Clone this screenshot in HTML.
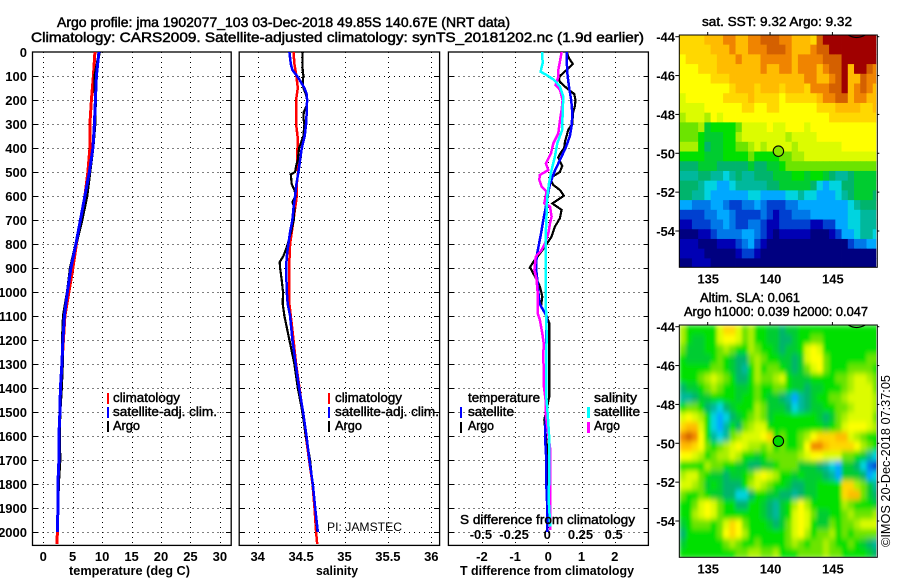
<!DOCTYPE html>
<html>
<head>
<meta charset="utf-8">
<title>Argo profile</title>
<style>
html,body{margin:0;padding:0;background:#fff;}
svg{display:block;}
text{font-family:"Liberation Sans",sans-serif;fill:#000;}
.b{font-weight:bold;font-size:13px;}
.t{font-size:14px;stroke:#000;stroke-width:.5px;}
.l{font-size:13px;stroke:#000;stroke-width:.45px;}
</style>
</head>
<body>
<svg id="chart" xmlns="http://www.w3.org/2000/svg" width="900" height="580" viewBox="0 0 900 580">
<defs>
<clipPath id="clip-sst"><rect x="679.3" y="35" width="197" height="232.3"/></clipPath>
<clipPath id="clip-sla"><rect x="679.3" y="325" width="197" height="232.3"/></clipPath>
<filter id="soft" x="-5%" y="-5%" width="110%" height="110%"><feGaussianBlur stdDeviation="1.8 2.8"/></filter>
</defs>
<text class="t" x="57" y="27" textLength="453" lengthAdjust="spacingAndGlyphs">Argo profile: jma 1902077_103 03-Dec-2018 49.85S 140.67E (NRT data)</text>
<text class="t" x="31" y="42" textLength="613" lengthAdjust="spacingAndGlyphs">Climatology: CARS2009. Satellite-adjusted climatology: synTS_20181202.nc (1.9d earlier)</text>

<g id="grid-layer"></g>
<g id="line-layer"></g>

<g>
<rect x="107" y="393" width="2" height="11" fill="#f00"/>
<rect x="107" y="407" width="2" height="11" fill="#00f"/>
<rect x="107" y="421" width="2" height="11" fill="#000"/>
<text class="l" x="113" y="402" textLength="67" lengthAdjust="spacingAndGlyphs">climatology</text>
<text class="l" x="113" y="416" textLength="104" lengthAdjust="spacingAndGlyphs">satellite-adj. clim.</text>
<text class="l" x="113" y="430" textLength="27" lengthAdjust="spacingAndGlyphs">Argo</text>
</g>
<g>
<rect x="328" y="393" width="2" height="11" fill="#f00"/>
<rect x="328" y="407" width="2" height="11" fill="#00f"/>
<rect x="328" y="421" width="2" height="11" fill="#000"/>
<text class="l" x="335" y="402" textLength="67" lengthAdjust="spacingAndGlyphs">climatology</text>
<text class="l" x="335" y="416" textLength="104" lengthAdjust="spacingAndGlyphs">satellite-adj. clim.</text>
<text class="l" x="335" y="430" textLength="27" lengthAdjust="spacingAndGlyphs">Argo</text>
<text x="327" y="531" font-size="12" textLength="75" lengthAdjust="spacingAndGlyphs">PI: JAMSTEC</text>
</g>
<g>
<text class="l" x="468" y="402" textLength="72" lengthAdjust="spacingAndGlyphs">temperature</text>
<text class="l" x="468" y="416" textLength="46" lengthAdjust="spacingAndGlyphs">satellite</text>
<text class="l" x="468" y="430" textLength="26" lengthAdjust="spacingAndGlyphs">Argo</text>
<rect x="460" y="407" width="2" height="11" fill="#00f"/>
<rect x="460" y="422" width="2" height="11" fill="#000"/>
<text class="l" x="594" y="402" textLength="43" lengthAdjust="spacingAndGlyphs">salinity</text>
<text class="l" x="594" y="416" textLength="46" lengthAdjust="spacingAndGlyphs">satellite</text>
<text class="l" x="594" y="430" textLength="26" lengthAdjust="spacingAndGlyphs">Argo</text>
<rect x="587" y="407" width="3" height="11" fill="#0ff"/>
<rect x="587" y="422" width="3" height="11" fill="#f0f"/>
<text class="l" x="460" y="524" textLength="175" lengthAdjust="spacingAndGlyphs">S difference from climatology</text>
</g>

<text class="b" x="69" y="575" textLength="121" lengthAdjust="spacingAndGlyphs">temperature (deg C)</text>
<text class="b" x="316" y="575" textLength="42" lengthAdjust="spacingAndGlyphs">salinity</text>
<text class="b" x="460" y="575" textLength="174" lengthAdjust="spacingAndGlyphs">T difference from climatology</text>

<text class="l" x="702" y="26" textLength="150" lengthAdjust="spacingAndGlyphs">sat. SST: 9.32 Argo: 9.32</text>
<text class="l" x="700" y="302" textLength="100" lengthAdjust="spacingAndGlyphs">Altim. SLA: 0.061</text>
<text class="l" x="684" y="316" textLength="184" lengthAdjust="spacingAndGlyphs">Argo h1000: 0.039 h2000: 0.047</text>
<g id="sst-map"></g>
<g id="sla-map"></g>
<text font-size="13" transform="translate(890,547) rotate(-90)" textLength="172" lengthAdjust="spacingAndGlyphs">©IMOS 20-Dec-2018 07:37:05</text>
</svg>
<script>
// ---- tick labels ----
const depthTicks = [0,100,200,300,400,500,600,700,800,900,1000,1100,1200,1300,1400,1500,1600,1700,1800,1900,2000];
const tempTicks = [0,5,10,15,20,25,30];
const salTicks = [34,34.5,35,35.5,36];
const dTempTicks = [-2,-1,0,1,2];
const dSalTicks = [-0.5,-0.25,0,0.25,0.5];
const dSalTickLabels = ['-0.5','-0.25','0','0.25','0.5'];
const lonTicks = [135,140,145];
const latTicks = [-44,-46,-48,-50,-52,-54];

// ---- temperature panel ----
const tempDepths = [0,100,200,300,400,500,600,700,800,900,1000,1100,1200,1300,1400,1500,1600,1700,1800,1900,2000];
const tempClim = [8.78,8.52,8.18,7.93,7.93,7.59,7.08,6.40,5.64,5.04,4.36,3.68,3.43,3.17,3.00,2.84,2.75,2.75,2.58,2.50,2.41];
const tempClimDeep = [2050,2.33];
const tempSat = [9.46,9.03,8.86,8.69,8.44,7.84,7.08,6.32,5.55,4.70,4.11,3.60,3.34,3.17,2.92,2.84,2.67,2.67,2.50,2.50,2.41];
const tempArgo = [9.54,8.78,8.86,8.78,8.44,7.93,7.42,6.57,5.55,4.62,4.11,3.43,3.26,3.26,3.09,2.84,2.75,2.84,2.58,2.50,2.41];

// ---- salinity panel ----
const salClimDepths = [0,50,100,150,200,250,300,350,400,450,500,550,600,700,800,900,1000,1050,1100,1200,1300,1400,1500,1600,1700,1800,1900,2000,2050];
const salClim = [34.412,34.423,34.446,34.462,34.442,34.442,34.442,34.458,34.458,34.454,34.465,34.45,34.45,34.412,34.373,34.362,34.362,34.365,34.381,34.412,34.442,34.481,34.519,34.554,34.592,34.631,34.654,34.673,34.685];
const salSatDepths = [0,50,75,100,125,150,175,200,250,300,350,400,450,500,550,600,650,700,750,800,850,900,1000,1050,1100,1200,1300,1400,1500,1600,1700,1800,1900,2000];
const salSat = [34.365,34.381,34.4,34.454,34.496,34.538,34.565,34.569,34.565,34.558,34.542,34.508,34.488,34.469,34.446,34.431,34.412,34.4,34.373,34.354,34.335,34.327,34.335,34.346,34.373,34.4,34.438,34.477,34.523,34.562,34.596,34.635,34.662,34.692];
const salArgoDepths = [0,25,50,75,100,125,150,175,200,225,250,275,300,350,400,425,450,475,500,510,550,575,600,625,650,700,750,800,825,850,875,900,950,1000,1050,1100,1200,1300,1400,1500,1600,1700,1800,1900,2000];
const salArgo = [34.519,34.515,34.515,34.519,34.527,34.519,34.527,34.554,34.569,34.562,34.531,34.527,34.538,34.527,34.477,34.469,34.462,34.442,34.431,34.381,34.392,34.423,34.438,34.4,34.423,34.415,34.385,34.346,34.323,34.296,34.254,34.258,34.277,34.292,34.288,34.308,34.365,34.423,34.462,34.515,34.554,34.604,34.631,34.662,34.688];

// ---- difference panel ----
const dTempSatDepths = [0,50,100,150,200,250,300,350,400,450,500,550,600,650,700,750,800,850,900,950,1000,1050,1100,1200,1300,1400,1500,1600,1700,1800,1900,2000];
const dTempSat = [.55,.56,.58,.63,.69,.72,.71,.65,.52,.35,.18,.05,-.02,-.08,-.15,-.21,-.28,-.35,-.37,-.33,-.30,-.26,-.05,-.06,-.06,-.06,-.07,-.10,-.06,-.06,-.03,-.03];
const dTempArgoDepths = [0,25,50,75,100,112,125,150,175,200,225,250,300,325,350,375,400,425,440,475,500,526,554,575,599,619,631,658,693,728,769,790,811,839,874,897,936,978,1019,1061,1075,1103,1130,1242,1436,1533,1658,1867,2000];
const dTempArgo = [.55,.62,.74,.55,.35,.32,.35,.55,.78,.82,.80,.75,.72,.60,.55,.50,.48,.35,.30,.42,.35,.05,.15,.35,.47,.25,.12,.40,.35,.20,.10,0,-.10,-.25,-.45,-.55,-.40,-.25,-.18,-.22,-.15,-.05,.03,.03,.03,-.12,-.03,-.03,-.03];
const dSalSatDepths = [0,47,82,96,117,144,186,256,325,381,436,492,547,603,672,742,881,1061,1172,1311,1436,1506,1589,1728,1867,1978];
const dSalSat = [-.045,-.043,-.058,-.013,.045,.088,.113,.108,.105,.068,.05,.025,.005,-.008,-.013,-.018,-.02,-.018,-.013,-.015,-.015,-.005,.005,.008,.003,.015];
const dSalArgoDepths = [0,47,75,103,137,158,200,242,283,339,381,422,464,492,512,533,561,582,631,644,686,714,756,797,825,853,908,950,1006,1061,1089,1117,1172,1214,1269,1353,1394,1450,1506,1658,1867,1992];
const dSalArgo = [.10,.085,.075,.075,.055,.088,.108,.10,.088,.075,.038,.02,-.018,0,-.063,-.068,-.05,-.013,-.03,.013,.025,.013,0,-.025,-.05,-.095,-.105,-.088,-.08,-.08,-.08,-.063,-.045,-.035,-.038,-.033,-.033,-.02,-.02,.015,.015,.015];

// ---- maps: one letter per 0.5 degree cell, a = lowest level, s = highest ----
const sstRows = [
"oooopppqqppqqrrrqqpppors" + "ssssssss",
"ooooopppqppqqqrrrqpppqrr" + "ssssssss",
"nooooopppqpppqqqqqpqqqqr" + "rrssssss",
"nnnooopppppppqppqqpqqqpq" + "rrspssrq",
"nnnnnoooppppppppppppqqpp" + "qrspprqq",
"nnnnnnnnopppoppp" + "opppoqqqrrspqrqp",
"mnnnnnnoooopoooo" + "nooooopqqrrpqqpp",
"mmmmnnnnnnoonnoo" + "nnnnnnoooppppoop",
"lmmmlnmnnnnnnnnn" + "nnnnnnnnoooooooo",
"kkklijjjjkmmmmnm" + "mnnnmnnnnnnnnnnn",
"kkkjiiijjlmmmmmm" + "mlmmmmnnnnnnnnnn",
"lllj" + "hiijjkklmlmm" + "mmlmmmmmmmnnnnnn",
"jjjjiiijjjjkjjjj" + "kkllmmmmmmmmmmmm",
"hhhiiihhhhhihhii" + "jkkkkkkkkkkkkkkk",
"ggghhggfghgghhhi" + "iijjijjihgghiiii",
"hhhgffeefggggghh" + "iiiiihfeffhhiiii",
"hhggfeeeeeeffee" + "e" + "effgffeeefghiiih",
"eedddeedccddedcc" + "cddeeeeeeeefghhh",
"ccccddeedccccdcb" + "ccdddeeeeeeffggg",
"bbcccddedccddcbb" + "cccccbbcceeffggg",
"aaabbcddddeedcba" + "bbbbbaaabceefggf",
"bbbaaabbbcdecbaa" + "aaaaaaaaaaacddee",
"bbbbaaaaabccbaaa" + "aaaaaaaaaaaaaaaa",
"aabbbaaaaaaaaaaa" + "aaaaaaaaaaaaaaaa"
];
const slaRows = [
"ljjjjjmoomkljjiihiijjjjjjjjjjjjj",
"ljiijjmnnmkljjiihhijjkkjjjjjjjjj",
"kiiijjklkjjlkjjihiijmnmjjjjjjjjj",
"jiiiijkjihhklkjjiihimnnkjjjjjjkk",
"jjjjjkkjihgjljkkjihikmnkjjjkkkkj",
"jjjklmlkjhhjlkklmjiiijjjjkklmmlk",
"hiijklkjjiijkjjkkjiihiijjjklmmmk",
"gghiijjjjijjkjiihgeghijjkklmmmml",
"jkkjhgfhijjjlkiiihfghiijjkklmmml",
"mnmljfefhijklkijjjjjjjihiklmmmmk",
"oppmjfegjhklmmjjjjjjjjjijkmnnnml",
"qrqnjgfgklmmmnojkjjklnoooppmlkjj",
"pponkjklmnmllkljkjjknqqpoooonlkj",
"nnmljkllmljjijkkkkklmnnmmmkkjigf",
"jjjjlkkjjiihhiijkkkiiihgfeiihfdc",
"lmmkjiihiijkmnmljjijiiihgeiiihef",
"mmlkijihhhjlmlkjjihhiijjjjoolkig",
"kjjkjiihhffhjjiihhghiijjjjoppkih",
"jjkmnmkjjhhjjihgijlnljjjjjlkjjji",
"jjlmnmkjjjjjjihgijmnmkiijjklkkkl",
"ijkkkjkmonkjjjihikmnmjiikjkklmmm",
"hjjjjjknonljjjjjjkmnljkkljkjkkkk",
"ijjjjjjklkjjkjjjjklkjkklkjjkjihg",
"jjjjjjjjjkkllkkljjjkkkklkkjjjjih"
];
const mapLevels = ['#000080','#0000b4','#0040d0','#0078e8','#00a8ff','#00d4e0','#00b89c','#00b46c','#00cc30','#00e000','#6ce400','#aaf000','#dcfc00','#ffff00','#ffd800','#ffbc00','#f08400','#d46000','#a00000'];
const cellLonStart = 132.75;
const cellLatStart = -43.92;
const cellStep = 0.5;

// ---- axis functions ----
const yD = d => 52 + 0.24 * d;
const xT = t => 43.2 + 5.89 * t;
const xS = s => 257.7 + 86.8 * (s - 34);
const xDT = v => 548.3 + 33.2 * v;
const xDS = v => 548.3 + 132.8 * v;
const lonX = lon => 707.7 + 12.47 * (lon - 135);
const latYTop = lat => 36.7 + 19.43 * (-44 - lat);
const latYBot = lat => 326.7 + 19.43 * (-44 - lat);

const NS = 'http://www.w3.org/2000/svg';
const gridLayer = document.getElementById('grid-layer');
const lineLayer = document.getElementById('line-layer');

function make(tag, parent, attrs, txt) {
  const el = document.createElementNS(NS, tag);
  for (const k in attrs) el.setAttribute(k, attrs[k]);
  if (txt !== undefined) el.textContent = txt;
  parent.appendChild(el);
  return el;
}

function drawPanel(left, right, ticksX, xFn, labels, name) {
  const top = 52, bottom = 545.4;
  depthTicks.forEach(d => {
    const y = Math.round(yD(d)) + 0.5;
    if (d > 0) {
      const g = make('line', gridLayer, {x1:left, x2:right, y1:y, y2:y, stroke:'#000', 'stroke-dasharray':'1 4', 'shape-rendering':'crispEdges'});
      
      
      const t1 = make('line', gridLayer, {x1:left, x2:left+5, y1:y, y2:y, stroke:'#000', 'shape-rendering':'crispEdges'});
      
      
      const t2 = make('line', gridLayer, {x1:right-5, x2:right, y1:y, y2:y, stroke:'#000', 'shape-rendering':'crispEdges'});
      
      
    }
  });
  ticksX.forEach((v, i) => {
    const x = Math.round(xFn(v)) + 0.5;
    const g = make('line', gridLayer, {x1:x, x2:x, y1:top, y2:bottom, stroke:'#000', 'stroke-dasharray':'1 4', 'shape-rendering':'crispEdges'});
    
    
    const l = make('text', gridLayer, {x:xFn(v), y:561, 'text-anchor':'middle', class:'b'}, labels[i]);
    
    
  });
  const box = make('rect', gridLayer, {x:left, y:top, width:right-left, height:bottom-top, fill:'none', stroke:'#000', 'stroke-width':1.3});
  
  
}

drawPanel(32.5, 231.2, tempTicks, xT, tempTicks, 'temperature-panel');
drawPanel(239.2, 439.6, salTicks, xS, salTicks, 'salinity-panel');
drawPanel(448.4, 648.4, dTempTicks, xDT, dTempTicks, 'difference-panel');

depthTicks.forEach(d => {
  const l = make('text', gridLayer, {x:27, y:yD(d)+5, 'text-anchor':'end', class:'b'}, d);
  
  
});
dSalTicks.forEach((v, i) => {
  const l = make('text', gridLayer, {x:xDS(v)-1, y:539, 'text-anchor':'middle', class:'b'}, dSalTickLabels[i]);
  
  
});

function drawLine(depths, values, xFn, color, width, name) {
  const pts = depths.map((d, i) => xFn(values[i]).toFixed(1) + ',' + yD(d).toFixed(1)).join(' ');
  const el = make('polyline', lineLayer, {points:pts, fill:'none', stroke:color, 'stroke-width':width, 'shape-rendering':'crispEdges'});
  
  
}

drawLine(tempDepths.concat(tempClimDeep[0]), tempClim.concat(tempClimDeep[1]), xT, '#f00', 3, 'temperature-climatology-line');
drawLine(tempDepths, tempArgo, xT, '#000', 3, 'temperature-argo-line');
drawLine(tempDepths, tempSat, xT, '#00f', 3, 'temperature-satellite-line');
drawLine(salClimDepths, salClim, xS, '#f00', 2.5, 'salinity-climatology-line');
drawLine(salArgoDepths, salArgo, xS, '#000', 2.2, 'salinity-argo-line');
drawLine(salSatDepths, salSat, xS, '#00f', 2.5, 'salinity-satellite-line');
drawLine(dTempArgoDepths, dTempArgo, xDT, '#000', 2.2, 'difference-t-argo-line');
drawLine(dTempSatDepths, dTempSat, xDT, '#00f', 2.5, 'difference-t-satellite-line');
drawLine(dSalArgoDepths, dSalArgo, xDS, '#f0f', 2.5, 'difference-s-argo-line');
drawLine(dSalSatDepths, dSalSat, xDS, '#0ff', 2.5, 'difference-s-satellite-line');

function drawMap(rootId, rows, latY, top, bottom, clipId, name, markerFill, soft) {
  const root = document.getElementById(rootId);
  const clip = make('g', root, {'clip-path':'url(#' + clipId + ')'});
  
  
  const holder = make('g', clip, soft ? {filter:'url(#soft)'} : {});
  
  
  rows.forEach((row, r) => {
    const lat = cellLatStart - cellStep * r;
    for (let c = 0; c < row.length; c++) {
      const lon = cellLonStart + cellStep * c;
      const x = lonX(lon), y = latY(lat);
      const level = row.charCodeAt(c) - 97;
      const cell = make('rect', holder, {x:x-0.2, y:y-0.2, width:cellStep*12.47+0.4, height:cellStep*19.43+0.4, fill:mapLevels[level]});
      
      
    }
  });
  const left = 679.3, right = 877.3;
  const arc = make('path', clip, {d:'M' + (left+169) + ' ' + top + ' Q' + (left+177) + ' ' + (top+5) + ' ' + (left+186) + ' ' + top, fill:'none', stroke:'#000', 'stroke-width':1.2});
  
  
  const marker = make('circle', root, {cx:lonX(140.67), cy:latY(-49.85)+0.8, r:5.2, fill:markerFill, stroke:'#000', 'stroke-width':1.1});
  
  
  const frame = make('rect', root, {x:left, y:top, width:right-left, height:bottom-top, fill:'none', stroke:'#000', 'stroke-width':1});
  
  
  lonTicks.forEach(v => {
    const x = lonX(v);
    const t = make('line', root, {x1:x, x2:x, y1:top-3, y2:top, stroke:'#000'});
    
    
    const l = make('text', root, {x:x+0.5, y:bottom+16, 'text-anchor':'middle', class:'b'}, v);
    
    
  });
  latTicks.forEach(v => {
    const y = latY(v);
    const t = make('line', root, {x1:left-4, x2:left, y1:y, y2:y, stroke:'#000'});
    
    
    const t2 = make('line', root, {x1:right, x2:right+2, y1:y, y2:y, stroke:'#000'});
    
    
    const l = make('text', root, {x:675, y:y+5, 'text-anchor':'end', class:'b'}, v);
    
    
  });
}

drawMap('sst-map', sstRows, latYTop, 35, 267.3, 'clip-sst', 'sst-map', '#86e400', false);
drawMap('sla-map', slaRows, latYBot, 325, 557.3, 'clip-sla', 'sla-map', '#00d800', true);
</script>
</body>
</html>
